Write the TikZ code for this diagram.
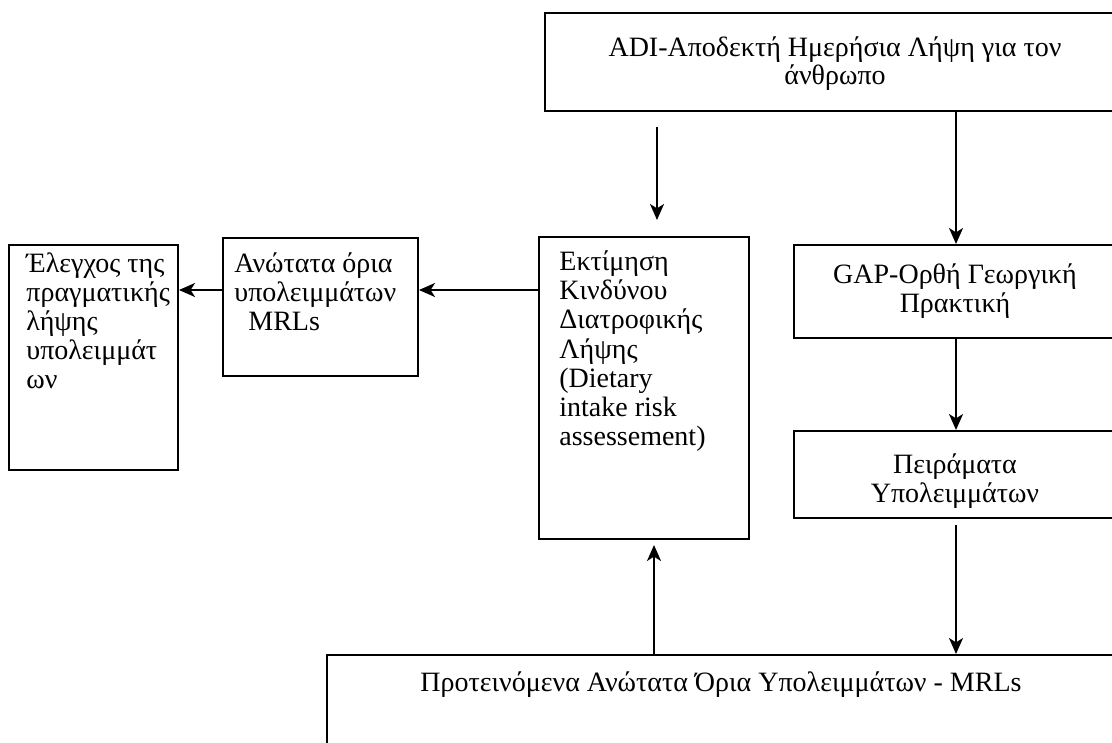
\documentclass[tikz,border=0pt]{standalone}
\usepackage{fontspec}
\setmainfont{Liberation Serif}
\usetikzlibrary{arrows.meta}
\begin{document}
\begin{tikzpicture}[x=0.5pt,y=-0.5pt,
  box/.style={draw, line width=1pt, inner sep=0pt, anchor=north west},
  txt/.style={inner sep=0pt, font=\fontsize{14}{14.5}\selectfont},
  arr/.style={line width=1pt, -{Stealth[length=8pt,width=7pt,inset=2.2pt]}}]
\useasboundingbox (0,0) rectangle (1112,743);
\clip (0,0) rectangle (1112,743);
% boxes
\node[box, minimum width=293pt, minimum height=49pt] (adi) at (544,12) {};
\node[box, minimum width=162pt, minimum height=46.5pt] (gap) at (793,244) {};
\node[box, minimum width=162pt, minimum height=43.5pt] (pir) at (793,430) {};
\node[box, minimum width=105pt, minimum height=151pt] (mid) at (538,236) {};
\node[box, minimum width=97.5pt, minimum height=69pt] (mrl) at (222,237) {};
\node[box, minimum width=84.5pt, minimum height=112.5pt] (ctrl) at (8,244) {};
\node[box, minimum width=402pt, minimum height=60pt] (prop) at (326,654) {};
% texts
\node[txt, anchor=north, align=center, font=\fontsize{14}{14}\selectfont] (tadi) at (835,32) {\rule{0pt}{12pt}ADI-Αποδεκτή Ημερήσια Λήψη για τον\\άνθρωπο};
\node[txt, anchor=north, align=center] (tgap) at (955,259) {\rule{0pt}{12pt}GAP-Ορθή Γεωργική\\Πρακτική};
\node[txt, anchor=north, align=center] (tpir) at (955,449) {\rule{0pt}{12pt}Πειράματα\\Υπολειμμάτων};
\node[txt, anchor=north west, align=left, font=\fontsize{14}{14.6}\selectfont] (tmid) at (559,246) {\rule{0pt}{12pt}Εκτίμηση\\Κινδύνου\\Διατροφικής\\Λήψης\\(Dietary\\intake risk\\assessement)};
\node[txt, anchor=north west, align=left] (tmrl) at (234,248) {\rule{0pt}{12pt}Ανώτατα όρια\\υπολειμμάτων\\\hspace*{7pt}MRLs};
\node[txt, anchor=north west, align=left] (tctrl) at (26,248) {\rule{0pt}{12pt}Έλεγχος της\\πραγματικής\\λήψης\\υπολειμμάτ\\ων};
\node[txt, anchor=north] (tprop) at (721,667) {\rule{0pt}{12pt}Προτεινόμενα Ανώτατα Όρια Υπολειμμάτων - MRLs};
% connectors
\coordinate (h) at (0,290);
\coordinate (f1) at (657,127);
\coordinate (f2) at (657,220);
\draw[arr] (adi.south -| gap.north) -- (gap.north);
\draw[arr] (f1) -- (f2);
\draw[arr] (gap.south) -- (pir.north);
\draw[arr, shorten <=3pt] (pir.south) -- (pir.south |- prop.north);
\draw[arr, shorten >=2.5pt] ([xshift=5pt]mid.south |- prop.north) -- ([xshift=5pt]mid.south);
\draw[arr] (mid.west |- h) -- (mrl.east |- h);
\draw[arr] (mrl.west |- h) -- (ctrl.east |- h);
\end{tikzpicture}
\end{document}
